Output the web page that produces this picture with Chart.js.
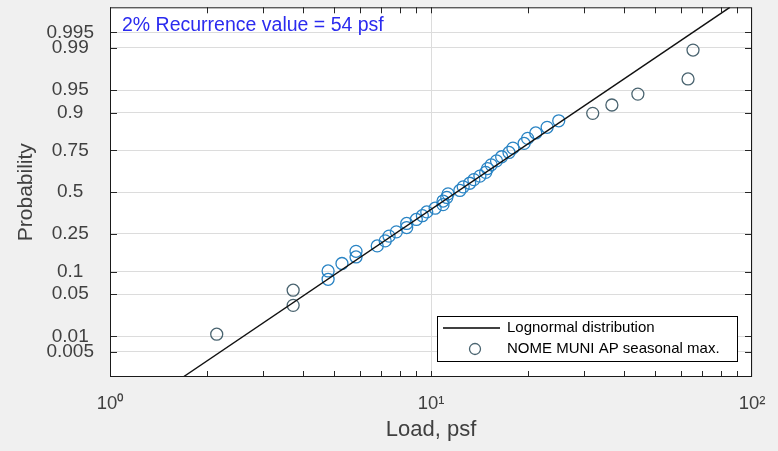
<!DOCTYPE html>
<html lang="en">
<head>
  <meta charset="UTF-8" />
  <title>Lognormal probability plot - NOME MUNI AP</title>
  <script src="https://cdn.jsdelivr.net/npm/chart.js"></script>
  <style>
    * {
      margin: 0;
      padding: 0;
      box-sizing: border-box;
    }

    body {
      background-color: #f0f0f0;
    }

    .wrap {
      position: relative;
      width: 778px;
      height: 451px;
    }
  </style>
</head>
<body>

  <div class="wrap">
    <canvas id="probChart"></canvas>
  </div>

  <script>
    // seasonal maximum ground snow loads (psf), sorted
    const loadPsf = [2.15, 3.72, 3.72, 4.78, 4.78, 5.28, 5.84, 5.84, 6.8, 7.2, 7.4, 7.8, 8.4, 8.4, 9.0,
      9.4, 9.7, 10.3, 10.9, 10.9, 11.2, 11.3, 12.3, 12.6, 13.2, 13.6, 14.2, 14.8, 15.0, 15.4,
      16.0, 16.6, 17.5, 18.0, 19.5, 20.0, 21.2, 23.0, 25.0, 31.9, 36.6, 44.1, 63.2, 65.5];

    // plotting position of each observation
    const probability = [0.011, 0.034, 0.057, 0.080, 0.102, 0.125, 0.148, 0.170, 0.193, 0.216, 0.239,
      0.261, 0.284, 0.307, 0.330, 0.352, 0.375, 0.398, 0.420, 0.443, 0.466, 0.489, 0.511, 0.534,
      0.557, 0.580, 0.602, 0.625, 0.648, 0.670, 0.693, 0.716, 0.739, 0.761, 0.784, 0.807, 0.830,
      0.852, 0.875, 0.898, 0.920, 0.943, 0.966, 0.989];

    // fitted lognormal line, end points at the plot edges
    const fitLoad = [1.69, 85.3];
    const fitProb = [0.00144, 0.99856];

    const yTickProbs = [0.005, 0.01, 0.05, 0.1, 0.25, 0.5, 0.75, 0.9, 0.95, 0.99, 0.995];
    const xTickValues = [1, 10, 100];
    const xTickLabels = ['10\u2070', '10\u00B9', '10\u00B2'];
    const yLimProb = [0.00144, 0.99856];

    const noteText = '2% Recurrence value = 54 psf';
    const FONT = "'Liberation Sans', Arial, sans-serif";

    // inverse of the standard normal CDF (Acklam)
    function norminv(p) {
      const a = [-39.69683028665376, 220.9460984245205, -275.9285104469687, 138.3577518672690, -30.66479806614716, 2.506628277459239];
      const b = [-54.47609879822406, 161.5858368580409, -155.6989798598866, 66.80131188771972, -13.28068155288572];
      const c = [-0.007784894002430293, -0.3223964580411365, -2.400758277161838, -2.549732539343734, 4.374664141464968, 2.938163982698783];
      const d = [0.007784695709041462, 0.3224671290700398, 2.445134137142996, 3.754408661907416];
      const pl = 0.02425;
      let q, r;
      if (p < pl) {
        q = Math.sqrt(-2 * Math.log(p));
        return (((((c[0] * q + c[1]) * q + c[2]) * q + c[3]) * q + c[4]) * q + c[5]) /
          ((((d[0] * q + d[1]) * q + d[2]) * q + d[3]) * q + 1);
      }
      if (p > 1 - pl) {
        q = Math.sqrt(-2 * Math.log(1 - p));
        return -(((((c[0] * q + c[1]) * q + c[2]) * q + c[3]) * q + c[4]) * q + c[5]) /
          ((((d[0] * q + d[1]) * q + d[2]) * q + d[3]) * q + 1);
      }
      q = p - 0.5;
      r = q * q;
      return (((((a[0] * r + a[1]) * r + a[2]) * r + a[3]) * r + a[4]) * r + a[5]) * q /
        (((((b[0] * r + b[1]) * r + b[2]) * r + b[3]) * r + b[4]) * r + 1);
    }

    const obsPoints = loadPsf.map((x, i) => ({ x: x, y: norminv(probability[i]) }));
    const fitPoints = fitLoad.map((x, i) => ({ x: x, y: norminv(fitProb[i]) }));

    // white axes box, inward ticks, frame, note and boxed legend
    const plotDecor = {
      id: 'plotDecor',
      beforeDraw(chart) {
        const { ctx, chartArea: a } = chart;
        ctx.save();
        ctx.fillStyle = '#ffffff';
        ctx.fillRect(a.left, a.top, a.right - a.left, a.bottom - a.top);
        ctx.restore();
      },
      afterDraw(chart) {
        const { ctx, chartArea: a } = chart;
        const xs = chart.scales.x, ys = chart.scales.y;
        ctx.save();
        ctx.strokeStyle = '#262626';
        ctx.lineWidth = 1;

        // x ticks, top and bottom
        ctx.beginPath();
        for (let dec = 1; dec <= 10; dec *= 10) {
          for (let k = 1; k <= 9; k++) {
            const v = k * dec;
            const px = Math.round(xs.getPixelForValue(v)) + 0.5;
            ctx.moveTo(px, a.bottom); ctx.lineTo(px, a.bottom - 6);
            ctx.moveTo(px, a.top); ctx.lineTo(px, a.top + 6);
          }
        }
        // y ticks, left and right
        yTickProbs.forEach(p => {
          const py = Math.round(ys.getPixelForValue(norminv(p))) + 0.5;
          ctx.moveTo(a.left, py); ctx.lineTo(a.left + 7, py);
          ctx.moveTo(a.right, py); ctx.lineTo(a.right - 7, py);
        });
        ctx.stroke();

        // frame
        ctx.strokeStyle = '#1a1a1a';
        ctx.strokeRect(a.left + 0.5, a.top + 0.5, a.right - a.left - 1, a.bottom - a.top - 1);

        // recurrence note
        ctx.fillStyle = '#2b2bef';
        ctx.font = '19.5px ' + FONT;
        ctx.textBaseline = 'middle';
        ctx.textAlign = 'left';
        ctx.fillText(noteText, a.left + 12, a.top + 18);

        // legend box
        const bx = 437, by = 316, bw = 300, bh = 45;
        ctx.fillStyle = '#ffffff';
        ctx.fillRect(bx, by, bw, bh);
        ctx.strokeStyle = '#000000';
        ctx.strokeRect(bx + 0.5, by + 0.5, bw, bh);
        const ds = chart.data.datasets;
        ctx.font = '15px ' + FONT;
        ctx.fillStyle = '#000000';
        // line entry
        ctx.beginPath();
        ctx.lineWidth = 1.3;
        ctx.moveTo(bx + 6, by + 12);
        ctx.lineTo(bx + 63, by + 12);
        ctx.stroke();
        ctx.fillText(ds[1].label, bx + 70, by + 12);
        // marker entry
        ctx.beginPath();
        ctx.strokeStyle = '#4a6470';
        ctx.arc(bx + 38, by + 33, 5.5, 0, Math.PI * 2);
        ctx.stroke();
        ctx.fillText(ds[0].label, bx + 70, by + 33);
        ctx.restore();
      }
    };

    // keep Chart.js from adding label overflow padding around the axes box
    function noEdgePadding(scale) {
      scale.paddingTop = 0;
      scale.paddingBottom = 0;
      scale.paddingLeft = 0;
      scale.paddingRight = 0;
    }

    new Chart(document.getElementById('probChart').getContext('2d'), {
      type: 'scatter',
      data: {
        datasets: [{
          label: 'NOME MUNI AP seasonal max.',
          data: obsPoints,
          pointStyle: 'circle',
          pointRadius: 6,
          pointHoverRadius: 6,
          pointBorderWidth: 1.3,
          pointBackgroundColor: 'rgba(0,0,0,0)',
          pointBorderColor: ctx => {
            const v = ctx.raw ? ctx.raw.x : 0;
            return (v >= 4.5 && v <= 26) ? '#2a84c4' : '#4a6470';
          },
          order: 2
        }, {
          label: 'Lognormal distribution',
          data: fitPoints,
          showLine: true,
          borderColor: '#111111',
          borderWidth: 1.4,
          pointRadius: 0,
          fill: false,
          order: 1
        }]
      },
      options: {
        responsive: true,
        maintainAspectRatio: false,
        animation: false,
        layout: { padding: { top: 5, right: 26, left: 0, bottom: 0 } },
        plugins: {
          legend: { display: false },
          tooltip: { enabled: false }
        },
        scales: {
          x: {
            type: 'logarithmic',
            min: 1,
            max: 100,
            afterBuildTicks: scale => {
              scale.ticks = xTickValues.map(v => ({ value: v }));
            },
            afterFit: scale => {
              scale.height = 74;
              noEdgePadding(scale);
            },
            ticks: {
              autoSkip: false,
              maxRotation: 0,
              padding: 16,
              color: '#404040',
              font: { family: FONT, size: 18.5 },
              callback: (value, index) => xTickLabels[index]
            },
            grid: { color: '#dcdcdc', drawTicks: false },
            border: { display: false },
            title: {
              display: true,
              text: 'Load, psf',
              color: '#404040',
              font: { family: FONT, size: 22 },
              padding: { top: 0, bottom: 8 }
            }
          },
          y: {
            type: 'linear',
            min: norminv(yLimProb[0]),
            max: norminv(yLimProb[1]),
            afterBuildTicks: scale => {
              scale.ticks = yTickProbs.map(p => ({ value: norminv(p) }));
            },
            afterFit: scale => {
              scale.width = 110;
              noEdgePadding(scale);
            },
            ticks: {
              autoSkip: false,
              crossAlign: 'center',
              padding: 16,
              color: '#404040',
              font: { family: FONT, size: 19 },
              callback: (value, index) => String(yTickProbs[index])
            },
            grid: { color: '#dcdcdc', drawTicks: false },
            border: { display: false },
            title: {
              display: true,
              text: 'Probability',
              color: '#404040',
              font: { family: FONT, size: 21 },
              padding: { top: 14, bottom: 0 }
            }
          }
        }
      },
      plugins: [plotDecor]
    });
  </script>
</body>
</html>
